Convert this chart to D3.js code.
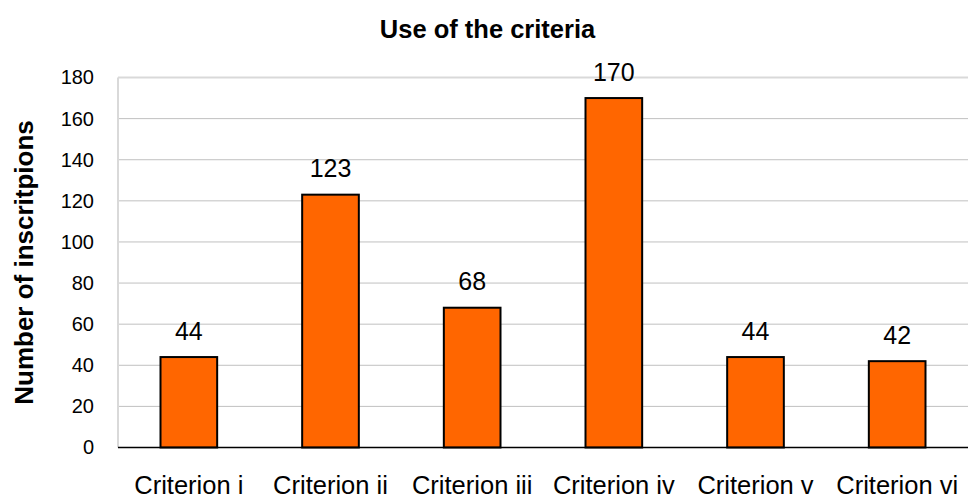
<!DOCTYPE html>
<html>
<head>
<meta charset="utf-8">
<script src="https://cdn.jsdelivr.net/npm/d3@7"></script>
<style>
  html, body { margin: 0; padding: 0; background: #fff; }
  svg { display: block; font-family: Arial, "Liberation Sans", sans-serif; }
</style>
</head>
<body>
<svg id="chart" width="968" height="499"></svg>
<script>
const title = "Use of the criteria";
const yTitle = "Number of inscritpions";
const categories = ["Criterion i", "Criterion ii", "Criterion iii", "Criterion iv", "Criterion v", "Criterion vi"];
const values = [44, 123, 68, 170, 44, 42];
const yTicks = [0, 20, 40, 60, 80, 100, 120, 140, 160, 180];

const svg = d3.select("#chart");
const plotLeft = 118, plotRight = 968, plotTop = 77.5, plotBottom = 447.5;

const x = d3.scaleBand().domain(categories).range([plotLeft, plotRight]).paddingInner(0.6).paddingOuter(0.3);
const y = d3.scaleLinear().domain([0, 180]).range([plotBottom, plotTop]);

// gridlines
svg.append("g").selectAll("line").data(yTicks.filter(d => d > 0 && d < 180)).join("line")
  .attr("x1", plotLeft).attr("x2", plotRight)
  .attr("y1", d => y(d)).attr("y2", d => y(d))
  .attr("stroke", "#c0c0c0").attr("stroke-width", 1);

// plot border top & left
svg.append("line").attr("x1", plotLeft).attr("x2", plotRight).attr("y1", y(180)).attr("y2", y(180))
  .attr("stroke", "#d9d9d9").attr("stroke-width", 2);
svg.append("line").attr("x1", plotLeft).attr("x2", plotLeft).attr("y1", y(180)).attr("y2", y(0))
  .attr("stroke", "#d9d9d9").attr("stroke-width", 2);

// y axis labels
const yAxis = d3.axisLeft(y).tickValues(yTicks).tickSize(0).tickPadding(24);
const yg = svg.append("g").attr("transform", `translate(${plotLeft},0)`).call(yAxis);
yg.select(".domain").remove();
yg.selectAll("text").attr("font-size", 20).attr("font-family", "Arial, 'Liberation Sans', sans-serif").attr("fill", "#000");

// bars
svg.append("g").selectAll("rect").data(values).join("rect")
  .attr("x", (d, i) => x(categories[i]))
  .attr("width", x.bandwidth())
  .attr("y", d => y(d))
  .attr("height", d => y(0) - y(d))
  .attr("fill", "#ff6600").attr("stroke", "#000").attr("stroke-width", 2);

// baseline axis
svg.append("line").attr("x1", plotLeft).attr("x2", plotRight).attr("y1", y(0)).attr("y2", y(0))
  .attr("stroke", "#000").attr("stroke-width", 1.5);

// value labels
svg.append("g").selectAll("text").data(values).join("text")
  .attr("x", (d, i) => x(categories[i]) + x.bandwidth() / 2)
  .attr("y", d => y(d) - 17.5)
  .attr("text-anchor", "middle").attr("font-size", 25).attr("fill", "#000")
  .text(d => d);

// x axis labels
const xAxis = d3.axisBottom(x).tickSize(0).tickPadding(0);
const xg = svg.append("g").attr("transform", `translate(0,${plotBottom})`).call(xAxis);
xg.select(".domain").remove();
xg.selectAll("text").attr("font-size", 25.5).attr("font-family", "Arial, 'Liberation Sans', sans-serif")
  .attr("fill", "#000").attr("dy", null).attr("y", 46);

// title
svg.append("text").attr("x", 487.5).attr("y", 38.3).attr("text-anchor", "middle")
  .attr("font-size", 25.5).attr("font-weight", "bold").text(title);

// y title
svg.append("text").attr("transform", `translate(33,${(plotTop + plotBottom) / 2}) rotate(-90)`)
  .attr("text-anchor", "middle").attr("font-size", 26).attr("font-weight", "bold").text(yTitle);
</script>
</body>
</html>
